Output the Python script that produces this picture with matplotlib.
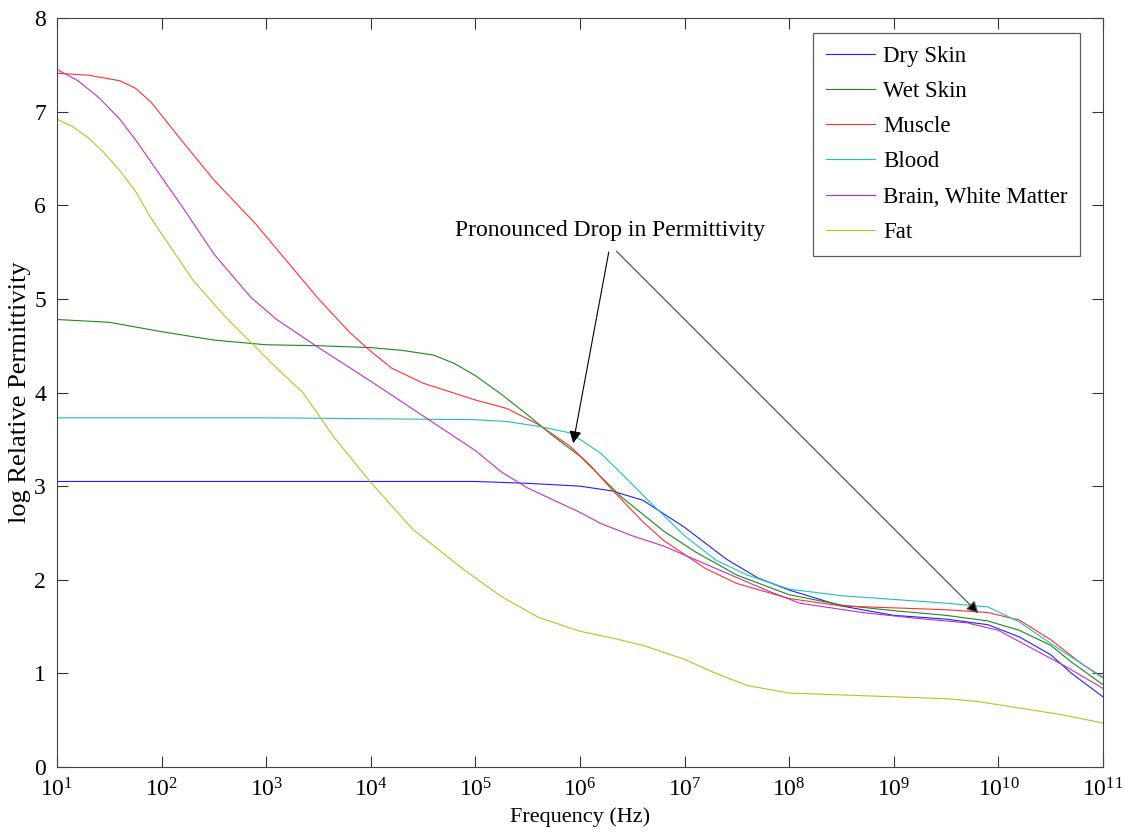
import matplotlib
matplotlib.use("Agg")
import matplotlib.pyplot as plt
import numpy as np

plt.rcParams['font.family'] = ['Liberation Serif', 'DejaVu Serif']
plt.rcParams['mathtext.fontset'] = 'custom'
plt.rcParams['mathtext.rm'] = 'Liberation Serif'

# log10(frequency) and log relative permittivity
dry_logf = [1, 2, 3, 4, 5, 5.5, 6, 6.3, 6.6, 7, 7.4, 7.7, 8, 8.5, 9, 9.5, 9.9, 10.2, 10.5, 10.7, 11]
dry_skin = [3.05, 3.05, 3.05, 3.05, 3.05, 3.03, 3.0, 2.95, 2.85, 2.56, 2.22, 2.02, 1.89, 1.72, 1.62, 1.58,
            1.52, 1.39, 1.2, 1.0, 0.75]

wet_logf = [1, 1.5, 2, 2.5, 3, 3.5, 4, 4.3, 4.6, 4.8, 5, 5.25, 5.5, 5.75, 6, 6.2, 6.4, 6.8, 7.1, 7.5, 8,
            8.5, 9, 9.5, 9.9, 10.2, 10.5, 10.7, 11]
wet_skin = [4.78, 4.75, 4.65, 4.56, 4.51, 4.5, 4.48, 4.45, 4.4, 4.31, 4.18, 3.98, 3.76, 3.53, 3.32, 3.1,
            2.88, 2.52, 2.3, 2.05, 1.84, 1.73, 1.67, 1.62, 1.56, 1.46, 1.3, 1.12, 0.88]

muscle_logf = [1, 1.3, 1.6, 1.75, 1.9, 2, 2.2, 2.5, 2.9, 3.2, 3.5, 3.8, 4, 4.2, 4.5, 5, 5.3, 5.6, 5.9,
               6.1, 6.3, 6.6, 6.8, 7, 7.2, 7.5, 8, 8.5, 9, 9.5, 9.9, 10.2, 10.5, 10.8, 11]
muscle = [7.41, 7.39, 7.33, 7.25, 7.1, 6.96, 6.68, 6.27, 5.8, 5.4, 5.0, 4.64, 4.44, 4.26, 4.1, 3.92, 3.83,
          3.66, 3.43, 3.22, 2.97, 2.62, 2.42, 2.27, 2.12, 1.96, 1.8, 1.72, 1.7, 1.68, 1.65, 1.57, 1.36,
          1.1, 0.96]

blood_logf = [1, 2, 3, 4, 5, 5.3, 5.6, 5.9, 6.0, 6.2, 6.4, 6.65, 7, 7.3, 7.6, 8, 8.5, 9, 9.5, 9.9,
              10.2, 10.5, 10.8, 11]
blood = [3.73, 3.73, 3.73, 3.72, 3.71, 3.69, 3.64, 3.57, 3.5, 3.35, 3.13, 2.85, 2.47, 2.21, 2.05, 1.9,
         1.83, 1.79, 1.75, 1.71, 1.55, 1.32, 1.1, 0.95]

brain_logf = [1, 1.2, 1.4, 1.6, 1.75, 2, 2.2, 2.5, 2.85, 3.1, 3.5, 4, 4.5, 5, 5.25, 5.5, 5.75, 6, 6.2,
              6.5, 6.8, 7.3, 7.8, 8.1, 8.7, 9.2, 9.7, 10, 10.3, 10.65, 11]
brain_wm = [7.45, 7.33, 7.15, 6.92, 6.7, 6.3, 5.98, 5.48, 5.02, 4.78, 4.48, 4.12, 3.75, 3.38, 3.15, 2.98,
            2.85, 2.72, 2.6, 2.47, 2.36, 2.12, 1.88, 1.75, 1.65, 1.59, 1.54, 1.46, 1.28, 1.07, 0.84]

fat_logf = [1, 1.15, 1.3, 1.45, 1.6, 1.75, 1.9, 2.1, 2.3, 2.6, 2.85, 3.1, 3.35, 3.65, 4, 4.4, 4.9, 5.25,
            5.6, 6, 6.3, 6.6, 7, 7.3, 7.6, 8, 8.5, 9, 9.5, 9.8, 10.2, 10.6, 11]
fat = [6.92, 6.84, 6.72, 6.56, 6.37, 6.15, 5.86, 5.53, 5.2, 4.82, 4.54, 4.26, 4.0, 3.52, 3.04, 2.54, 2.1,
       1.82, 1.6, 1.45, 1.38, 1.3, 1.15, 1.0, 0.87, 0.79, 0.77, 0.75, 0.73, 0.7, 0.63, 0.56, 0.47]

series = [
    ('Dry Skin', dry_logf, dry_skin, '#2020ff'),
    ('Wet Skin', wet_logf, wet_skin, '#1a8a1a'),
    ('Muscle', muscle_logf, muscle, '#ff3030'),
    ('Blood', blood_logf, blood, '#20c0c0'),
    ('Brain, White Matter', brain_logf, brain_wm, '#c030c0'),
    ('Fat', fat_logf, fat, '#bfbf20'),
]

fig = plt.figure(figsize=(11.25, 8.39), dpi=100)
ax = fig.add_axes([0.0507, 0.0858, 0.9297, 0.8927])

for name, lf, vals, col in series:
    ax.plot(10 ** np.array(lf), vals, color=col, lw=0.8, label=name)

ax.set_xscale('log')
ax.set_xlim(1e1, 1e11)
ax.set_ylim(0, 8)
ax.set_yticks(range(0, 9))
decades = list(range(1, 12))
ax.set_xticks([10.0 ** d for d in decades])
ax.set_xticklabels([r'$\mathregular{10^{%d}}$' % d for d in decades])
ax.tick_params(which='both', direction='in', top=True, right=True, labelsize=17, colors='#333333',
               labelcolor='black')
ax.tick_params(which='major', length=8, width=0.8, pad=8)
ax.tick_params(which='minor', length=4, width=0.6)
for s in ax.spines.values():
    s.set_color('#444444')
    s.set_linewidth(0.8)

ax.set_xlabel('Frequency (Hz)', fontsize=16, labelpad=4)
ax.set_ylabel('log Relative Permittivity', fontsize=19, labelpad=2)

leg = ax.legend(loc='upper right', bbox_to_anchor=(0.978, 0.98), borderaxespad=0, fontsize=16.5,
                handlelength=2.15, frameon=True, fancybox=False, borderpad=0.55, labelspacing=0.62,
                handletextpad=0.35)
leg.get_frame().set_edgecolor('#333333')
leg.get_frame().set_linewidth(0.9)

ax.text(10 ** 6.29, 5.73, 'Pronounced Drop in Permittivity', ha='center', va='center', fontsize=17)
ax.annotate('', xy=(10 ** 5.93, 3.43), xytext=(10 ** 6.28, 5.53),
            arrowprops=dict(arrowstyle='-|>', color='black', lw=0.8, mutation_scale=18))
ax.annotate('', xy=(10 ** 9.83, 1.62), xytext=(10 ** 6.33, 5.53),
            arrowprops=dict(arrowstyle='-|>', color='#555555', lw=0.9, mutation_scale=18,
                            fc='black'))

fig.savefig('out.png', dpi=100)
